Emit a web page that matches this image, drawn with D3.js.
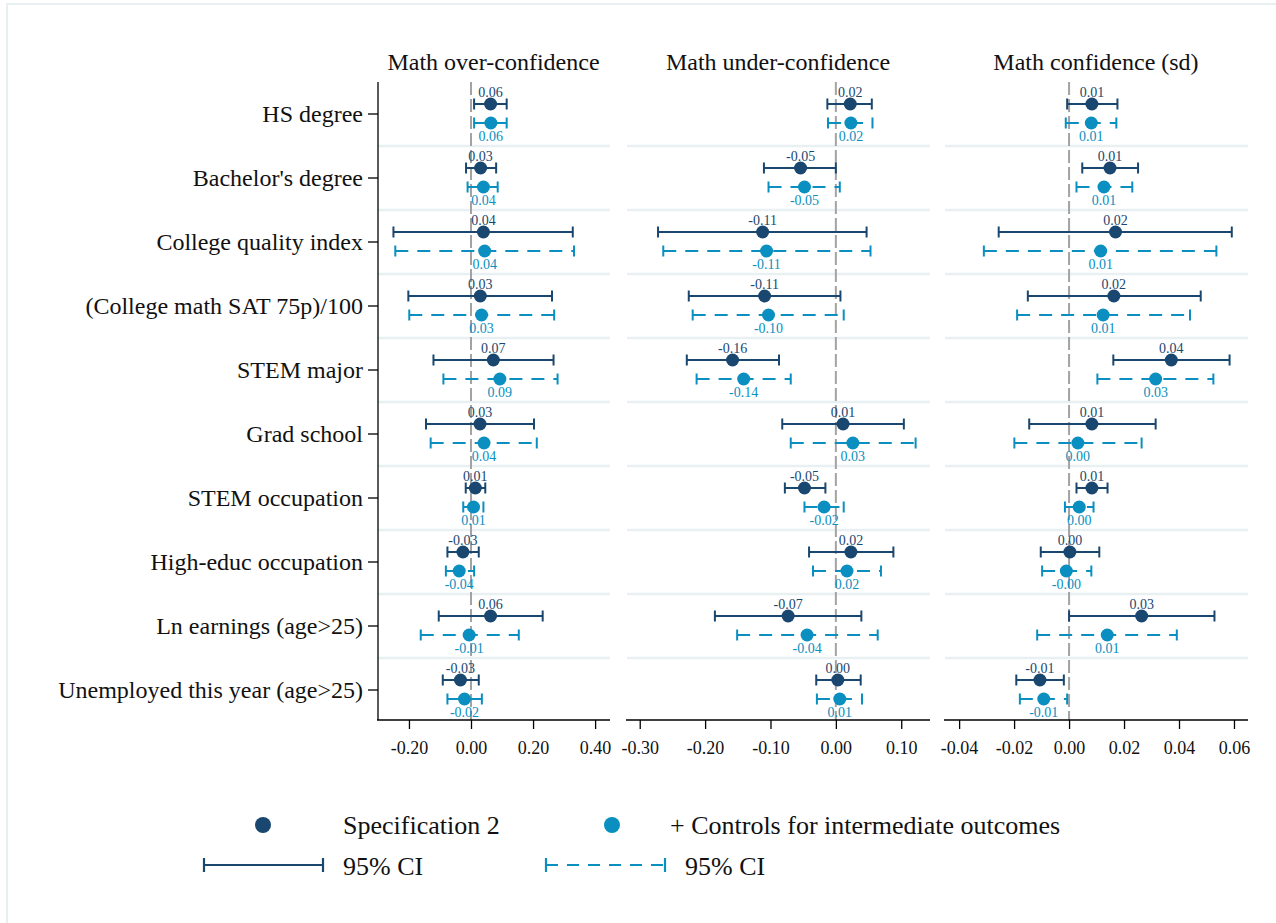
<!DOCTYPE html>
<html>
<head>
<meta charset="utf-8">
<script src="https://cdn.jsdelivr.net/npm/d3@7"></script>
<style>
  body { margin: 0; background: #fff; }
  svg { display: block; font-family: "Liberation Serif", "Times New Roman", serif; }
</style>
</head>
<body>
<svg id="chart" width="1276" height="923"></svg>
<script>
// categories (rows)
let categories = ["HS degree", "Bachelor's degree", "College quality index", "(College math SAT 75p)/100",
  "STEM major", "Grad school", "STEM occupation", "High-educ occupation", "Ln earnings (age>25)",
  "Unemployed this year (age>25)"];

let panelTitles = ["Math over-confidence", "Math under-confidence", "Math confidence (sd)"];

// [estimate, ci low, ci high] per row
let overSpec2 = [[0.063, 0.010, 0.115], [0.031, -0.016, 0.081], [0.040, -0.250, 0.328], [0.030, -0.202, 0.261],
  [0.072, -0.121, 0.266], [0.029, -0.145, 0.203], [0.014, -0.017, 0.046], [-0.026, -0.076, 0.025],
  [0.063, -0.104, 0.231], [-0.034, -0.091, 0.025]];
let overCtrl = [[0.064, 0.010, 0.115], [0.040, -0.011, 0.086], [0.044, -0.244, 0.332], [0.034, -0.199, 0.268],
  [0.093, -0.089, 0.279], [0.042, -0.130, 0.212], [0.008, -0.025, 0.040], [-0.038, -0.081, 0.010],
  [-0.006, -0.162, 0.154], [-0.021, -0.076, 0.035]];

let underSpec2 = [[0.022, -0.013, 0.055], [-0.054, -0.110, 0.000], [-0.112, -0.272, 0.047], [-0.109, -0.225, 0.007],
  [-0.158, -0.228, -0.087], [0.011, -0.082, 0.104], [-0.048, -0.078, -0.016], [0.023, -0.041, 0.088],
  [-0.073, -0.185, 0.039], [0.003, -0.030, 0.038]];
let underCtrl = [[0.023, -0.012, 0.056], [-0.048, -0.103, 0.006], [-0.106, -0.264, 0.053], [-0.103, -0.219, 0.012],
  [-0.141, -0.213, -0.069], [0.026, -0.069, 0.122], [-0.018, -0.048, 0.012], [0.017, -0.035, 0.069],
  [-0.044, -0.151, 0.064], [0.006, -0.029, 0.040]];

let sdSpec2 = [[0.0083, -0.0007, 0.0176], [0.0149, 0.0048, 0.0251], [0.0169, -0.0256, 0.0592], [0.0163, -0.0150, 0.0479],
  [0.0372, 0.0161, 0.0584], [0.0083, -0.0145, 0.0315], [0.0083, 0.0027, 0.0140], [0.0003, -0.0103, 0.0110],
  [0.0264, 0.0000, 0.0529], [-0.0106, -0.0192, -0.0019]];
let sdCtrl = [[0.0081, -0.0012, 0.0172], [0.0127, 0.0027, 0.0230], [0.0115, -0.0310, 0.0536], [0.0124, -0.0189, 0.0440],
  [0.0315, 0.0103, 0.0525], [0.0032, -0.0199, 0.0264], [0.0037, -0.0015, 0.0089], [-0.0010, -0.0098, 0.0081],
  [0.0139, -0.0116, 0.0392], [-0.0092, -0.0179, -0.0007]];

let overTicks = [-0.2, 0, 0.2, 0.4];
let underTicks = [-0.3, -0.2, -0.1, 0, 0.1];
let sdTicks = [-0.04, -0.02, 0, 0.02, 0.04, 0.06];

let legendLabels = ["Specification 2", "+ Controls for intermediate outcomes", "95% CI", "95% CI"];

let dark = "#1a476f";
let light = "#0a8fc0";
let fmt = (v) => v.toFixed(2);
let serif = "Liberation Serif, Times New Roman, serif";

let svg = d3.select("#chart");

// cadre léger autour de la figure
svg.append("rect")
  .attr("x", 7).attr("y", 4)
  .attr("width", 1300).attr("height", 1000)
  .attr("fill", "none")
  .attr("stroke", "#e8eff1")
  .attr("stroke-width", 2);

let y = d3.scaleBand()
  .domain(categories)
  .range([82, 722]);

let panels = [
  { title: panelTitles[0], s2: overSpec2, ct: overCtrl, ticks: overTicks, domain: [-0.303, 0.448], range: [377, 610] },
  { title: panelTitles[1], s2: underSpec2, ct: underCtrl, ticks: underTicks, domain: [-0.321, 0.144], range: [626, 930] },
  { title: panelTitles[2], s2: sdSpec2, ct: sdCtrl, ticks: sdTicks, domain: [-0.0455, 0.0651], range: [944, 1248] }
];

panels.forEach(function (p, k) {
  let x = d3.scaleLinear().domain(p.domain).range(p.range);
  let g = svg.append("g").attr("class", "panel");

  // lignes de séparation entre les lignes
  g.selectAll(".sep")
    .data(categories.slice(1))
    .join("line")
    .attr("class", "sep")
    .attr("x1", p.range[0] + 1).attr("x2", p.range[1])
    .attr("y1", (d) => y(d)).attr("y2", (d) => y(d))
    .attr("stroke", "#e9f0f2")
    .attr("stroke-width", 2.5);

  // ligne zéro
  g.append("line")
    .attr("x1", x(0)).attr("x2", x(0))
    .attr("y1", 82).attr("y2", 720)
    .attr("stroke", "#a3a3a3")
    .attr("stroke-width", 2)
    .attr("stroke-dasharray", "13,4");

  // titre
  g.append("text")
    .attr("x", (p.range[0] + p.range[1]) / 2)
    .attr("y", 70)
    .attr("text-anchor", "middle")
    .attr("font-family", serif)
    .attr("font-size", "24px")
    .attr("fill", "#111")
    .text(p.title);

  let series = [
    { data: p.s2, color: dark, dy: -10, dash: null, ly: -7 },
    { data: p.ct, color: light, dy: 9, dash: "13,9", ly: 18 }
  ];

  series.forEach(function (s) {
    let sg = g.append("g");
    let rows = sg.selectAll("g")
      .data(s.data.map((d, i) => ({ cat: categories[i], b: d[0], lo: d[1], hi: d[2] })))
      .join("g")
      .attr("transform", (d) => `translate(0,${y(d.cat) + y.bandwidth() / 2 + s.dy})`);

    rows.append("line")
      .attr("x1", (d) => x(d.lo)).attr("x2", (d) => x(d.hi))
      .attr("stroke", s.color)
      .attr("stroke-width", 2)
      .attr("stroke-dasharray", s.dash);

    rows.selectAll(".cap")
      .data((d) => [d.lo, d.hi])
      .join("line")
      .attr("class", "cap")
      .attr("x1", (v) => x(v)).attr("x2", (v) => x(v))
      .attr("y1", -5.5).attr("y2", 5.5)
      .attr("stroke", s.color)
      .attr("stroke-width", 2);

    rows.append("circle")
      .attr("cx", (d) => x(d.b))
      .attr("r", 6.5)
      .attr("fill", s.color);

    rows.append("text")
      .attr("x", (d) => x(d.b))
      .attr("y", s.ly)
      .attr("text-anchor", "middle")
      .attr("font-family", serif)
      .attr("font-size", "14px")
      .attr("fill", s.color)
      .text((d) => fmt(d.b));
  });

  // axe x
  let ax = g.append("g")
    .attr("transform", "translate(0,720)")
    .call(d3.axisBottom(x).tickValues(p.ticks).tickFormat(fmt).tickSize(9).tickSizeOuter(0));
  ax.attr("font-family", serif);
  ax.select(".domain").attr("stroke", "#000").attr("stroke-width", 1.3)
    .attr("d", `M${p.range[0]},0H${p.range[1]}`);
  ax.selectAll(".tick line").attr("stroke", "#000").attr("stroke-width", 1.3);
  ax.selectAll(".tick text")
    .attr("font-size", "18px")
    .attr("fill", "#111")
    .attr("dy", "1.2em");
});

// axe y du premier panneau
let ay = svg.append("g")
  .attr("transform", "translate(378,0)")
  .call(d3.axisLeft(y).tickSize(10).tickSizeOuter(0).tickPadding(5));
ay.attr("font-family", serif);
ay.select(".domain").attr("stroke", "#000").attr("stroke-width", 1.3)
  .attr("d", "M0,82V720");
ay.selectAll(".tick line").attr("stroke", "#000").attr("stroke-width", 1.3);
ay.selectAll(".tick text")
  .attr("font-size", "24px")
  .attr("fill", "#111");

// légende
let leg = svg.append("g").attr("class", "legende").attr("font-family", serif);
leg.append("circle").attr("cx", 263).attr("cy", 825).attr("r", 8).attr("fill", dark);
leg.append("circle").attr("cx", 612).attr("cy", 825).attr("r", 8).attr("fill", light);

let legItems = [
  { x1: 204, x2: 323, color: dark, dash: null },
  { x1: 546, x2: 665, color: light, dash: "12,9" }
];
legItems.forEach(function (l) {
  leg.append("line").attr("x1", l.x1).attr("x2", l.x2).attr("y1", 865).attr("y2", 865)
    .attr("stroke", l.color).attr("stroke-width", 2.2).attr("stroke-dasharray", l.dash);
  [l.x1, l.x2].forEach(function (cx) {
    leg.append("line").attr("x1", cx).attr("x2", cx).attr("y1", 858).attr("y2", 872)
      .attr("stroke", l.color).attr("stroke-width", 2.2);
  });
});

leg.selectAll("text")
  .data(legendLabels)
  .join("text")
  .attr("x", (d, i) => [343, 670, 343, 685][i])
  .attr("y", (d, i) => i < 2 ? 834 : 875)
  .attr("font-size", "26px")
  .attr("fill", "#111")
  .text((d) => d);
</script>
</body>
</html>
